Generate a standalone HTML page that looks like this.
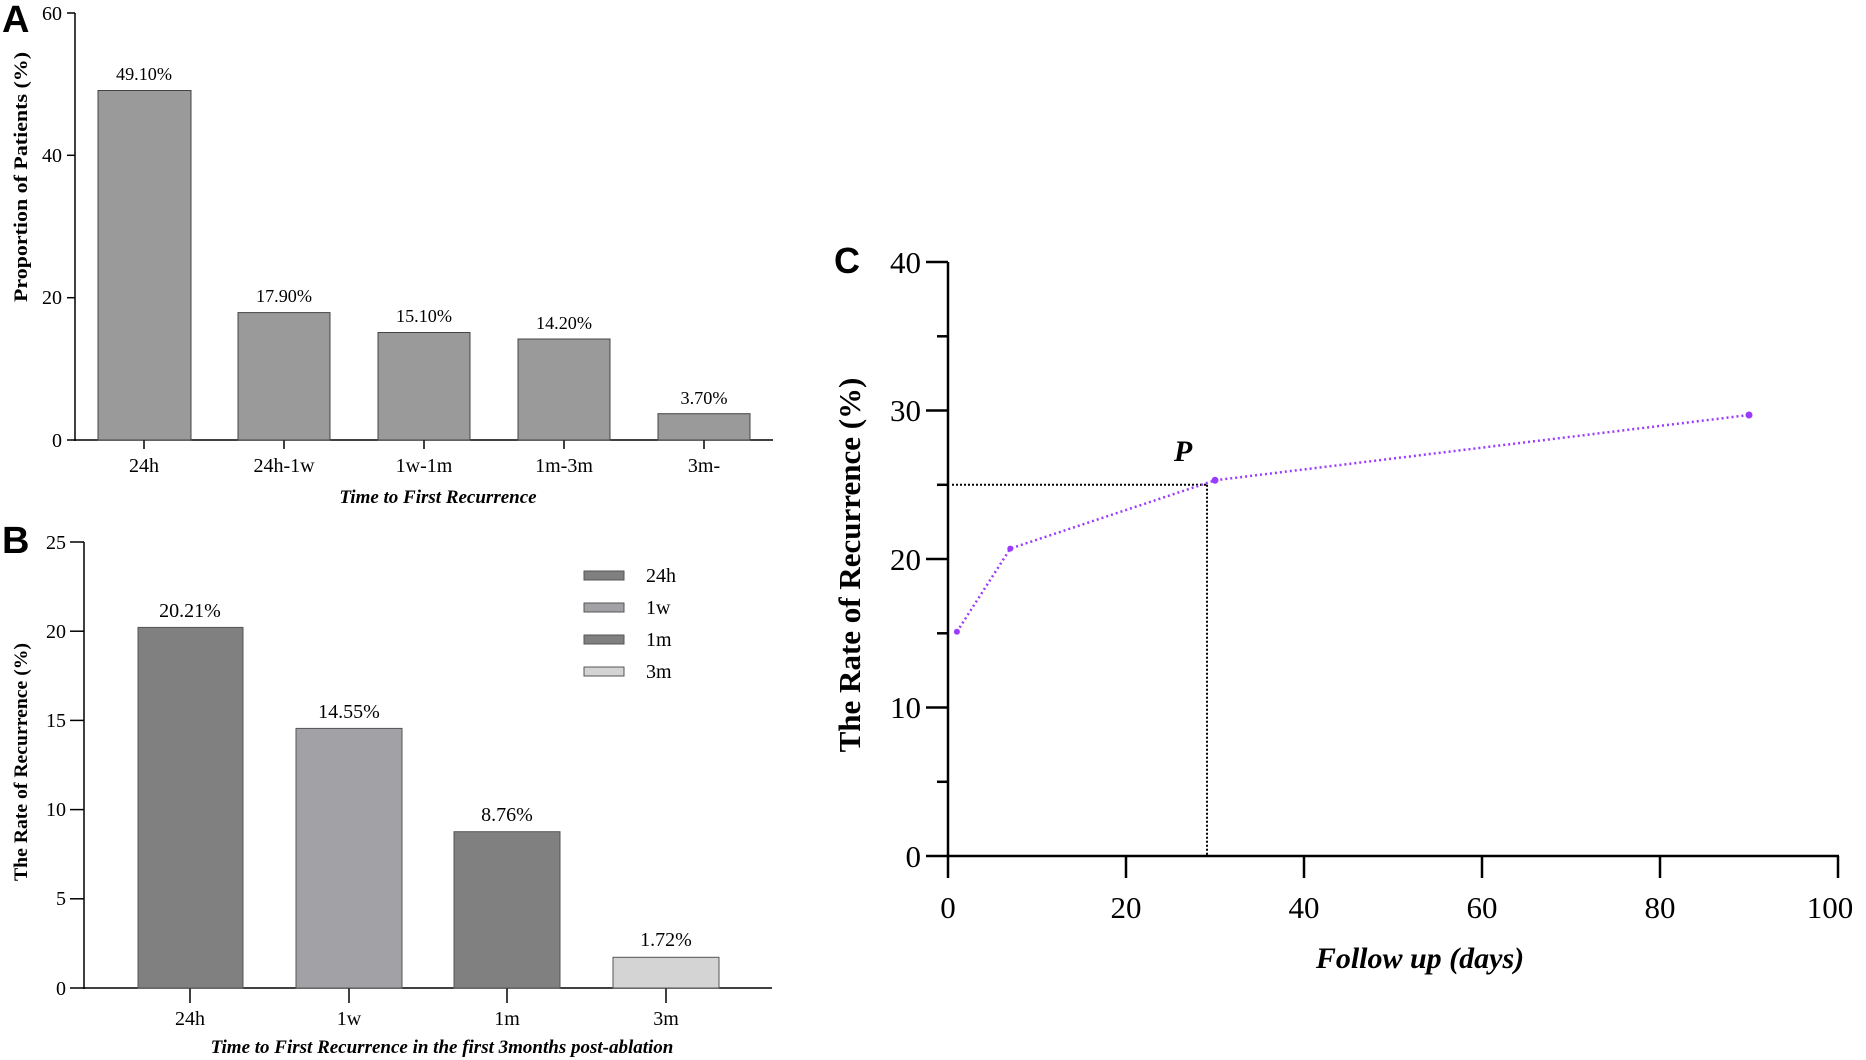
<!DOCTYPE html>
<html><head><meta charset="utf-8"><style>
html,body{margin:0;padding:0;background:#fff;}
svg{display:block;}
text{font-family:"Liberation Serif",serif;fill:#000;}
.s{font-family:"Liberation Sans",sans-serif;font-weight:bold;}
</style></head><body>
<svg width="1866" height="1060" viewBox="0 0 1866 1060" xmlns="http://www.w3.org/2000/svg">
<!-- Panel A -->
<text class="s" x="2" y="32" font-size="38">A</text>
<g stroke="#000" stroke-width="1.5" fill="none">
<line x1="75" y1="13" x2="75" y2="441"/>
<line x1="74" y1="440" x2="773" y2="440"/>
<line x1="67" y1="13" x2="75" y2="13"/><line x1="67" y1="155.3" x2="75" y2="155.3"/><line x1="67" y1="297.7" x2="75" y2="297.7"/><line x1="67" y1="440" x2="75" y2="440"/>
<line x1="144" y1="440" x2="144" y2="449"/><line x1="284" y1="440" x2="284" y2="449"/><line x1="424" y1="440" x2="424" y2="449"/><line x1="564" y1="440" x2="564" y2="449"/><line x1="704" y1="440" x2="704" y2="449"/>
</g>
<g fill="#9a9a9a" stroke="#444" stroke-width="1">
<rect x="98" y="90.5" width="93" height="349.5"/>
<rect x="238" y="312.6" width="92" height="127.4"/>
<rect x="378" y="332.5" width="92" height="107.5"/>
<rect x="518" y="339" width="92" height="101"/>
<rect x="658" y="413.7" width="92" height="26.3"/>
</g>
<g font-size="18" text-anchor="middle">
<text x="144" y="80" textLength="56" lengthAdjust="spacingAndGlyphs">49.10%</text><text x="284" y="302" textLength="56" lengthAdjust="spacingAndGlyphs">17.90%</text><text x="424" y="322" textLength="56" lengthAdjust="spacingAndGlyphs">15.10%</text><text x="564" y="329" textLength="56" lengthAdjust="spacingAndGlyphs">14.20%</text><text x="704" y="404" textLength="47" lengthAdjust="spacingAndGlyphs">3.70%</text>
</g>
<g font-size="20" text-anchor="end">
<text x="62" y="20">60</text><text x="62" y="162">40</text><text x="62" y="304">20</text><text x="62" y="447">0</text>
</g>
<g font-size="20" text-anchor="middle">
<text x="144" y="472">24h</text><text x="284" y="472">24h-1w</text><text x="424" y="472">1w-1m</text><text x="564" y="472">1m-3m</text><text x="704" y="472">3m-</text>
</g>
<text x="438" y="503" font-size="19" font-style="italic" font-weight="bold" text-anchor="middle">Time to First Recurrence</text>
<text transform="translate(27,177) rotate(-90)" font-size="19" font-weight="bold" text-anchor="middle" textLength="250" lengthAdjust="spacingAndGlyphs">Proportion of Patients (%)</text>

<!-- Panel B -->
<text class="s" x="2" y="553" font-size="38">B</text>
<g stroke="#000" stroke-width="1.5" fill="none">
<line x1="84" y1="542" x2="84" y2="989"/>
<line x1="83" y1="988" x2="772" y2="988"/>
<line x1="70" y1="542" x2="84" y2="542"/><line x1="70" y1="631.2" x2="84" y2="631.2"/><line x1="70" y1="720.4" x2="84" y2="720.4"/><line x1="70" y1="809.6" x2="84" y2="809.6"/><line x1="70" y1="898.8" x2="84" y2="898.8"/><line x1="70" y1="988" x2="84" y2="988"/>
<line x1="190" y1="988" x2="190" y2="1003"/><line x1="349" y1="988" x2="349" y2="1003"/><line x1="507" y1="988" x2="507" y2="1003"/><line x1="666" y1="988" x2="666" y2="1003"/>
</g>
<g stroke="#555" stroke-width="1">
<rect x="138" y="627.4" width="105" height="360.6" fill="#808080"/>
<rect x="296" y="728.4" width="106" height="259.6" fill="#a2a2a6"/>
<rect x="454" y="831.7" width="106" height="156.3" fill="#808080"/>
<rect x="613" y="957.3" width="106" height="30.7" fill="#d4d4d4"/>
<rect x="584" y="571" width="40" height="9" fill="#808080"/>
<rect x="584" y="603" width="40" height="9" fill="#a2a2a6"/>
<rect x="584" y="635" width="40" height="9" fill="#808080"/>
<rect x="584" y="667" width="40" height="9" fill="#d4d4d4"/>
</g>
<g font-size="20">
<text x="646" y="582">24h</text><text x="646" y="614">1w</text><text x="646" y="646">1m</text><text x="646" y="678">3m</text>
</g>
<g font-size="20" text-anchor="middle">
<text x="190" y="617">20.21%</text><text x="349" y="718">14.55%</text><text x="507" y="821">8.76%</text><text x="666" y="946">1.72%</text>
</g>
<g font-size="20" text-anchor="end">
<text x="66" y="549">25</text><text x="66" y="638">20</text><text x="66" y="727">15</text><text x="66" y="816">10</text><text x="66" y="905">5</text><text x="66" y="995">0</text>
</g>
<g font-size="20" text-anchor="middle">
<text x="190" y="1025">24h</text><text x="349" y="1025">1w</text><text x="507" y="1025">1m</text><text x="666" y="1025">3m</text>
</g>
<text x="442" y="1053" font-size="19" font-style="italic" font-weight="bold" text-anchor="middle">Time to First Recurrence in the first 3months post-ablation</text>
<text transform="translate(27,762) rotate(-90)" font-size="19" font-weight="bold" text-anchor="middle" textLength="238" lengthAdjust="spacingAndGlyphs">The Rate of Recurrence (%)</text>

<!-- Panel C -->
<text class="s" x="834" y="273" font-size="36">C</text>
<g stroke="#000" stroke-width="2.5" fill="none">
<line x1="948" y1="262" x2="948" y2="857"/>
<line x1="947" y1="856" x2="1839" y2="856"/>
<line x1="926" y1="262" x2="948" y2="262"/><line x1="926" y1="410.5" x2="948" y2="410.5"/><line x1="926" y1="559" x2="948" y2="559"/><line x1="926" y1="707.5" x2="948" y2="707.5"/><line x1="926" y1="856" x2="948" y2="856"/>
<line x1="937" y1="336.3" x2="948" y2="336.3"/><line x1="937" y1="484.8" x2="948" y2="484.8"/><line x1="937" y1="633.3" x2="948" y2="633.3"/><line x1="937" y1="781.8" x2="948" y2="781.8"/>
<line x1="948" y1="856" x2="948" y2="878"/><line x1="1126" y1="856" x2="1126" y2="878"/><line x1="1304" y1="856" x2="1304" y2="878"/><line x1="1482" y1="856" x2="1482" y2="878"/><line x1="1660" y1="856" x2="1660" y2="878"/><line x1="1838" y1="856" x2="1838" y2="878"/>
</g>
<g stroke="#000" stroke-width="2" stroke-dasharray="2,2" fill="none">
<line x1="952" y1="484.8" x2="1207" y2="484.8"/>
<line x1="1207" y1="484.8" x2="1207" y2="856"/>
</g>
<polyline points="956.9,631.8 1010.3,548.6 1215,480.3 1749,415" fill="none" stroke="#9b3bff" stroke-width="2.5" stroke-dasharray="2,3"/>
<g fill="#9b3bff">
<circle cx="956.9" cy="631.8" r="3"/><circle cx="1010.3" cy="548.6" r="3"/><circle cx="1215" cy="480.3" r="3.5"/><circle cx="1749" cy="415" r="3.5"/>
</g>
<text x="1183" y="461" font-size="30" font-style="italic" font-weight="bold" text-anchor="middle">P</text>
<g font-size="31" text-anchor="end">
<text x="921" y="273">40</text><text x="921" y="421">30</text><text x="921" y="570">20</text><text x="921" y="718">10</text><text x="921" y="867">0</text>
</g>
<g font-size="31" text-anchor="middle">
<text x="948" y="918">0</text><text x="1126" y="918">20</text><text x="1304" y="918">40</text><text x="1482" y="918">60</text><text x="1660" y="918">80</text><text x="1830" y="918">100</text>
</g>
<text x="1420" y="968" font-size="30" font-style="italic" font-weight="bold" text-anchor="middle">Follow up (days)</text>
<text transform="translate(860,565) rotate(-90)" font-size="31" font-weight="bold" text-anchor="middle">The Rate of Recurrence  (%)</text>
</svg>
</body></html>
